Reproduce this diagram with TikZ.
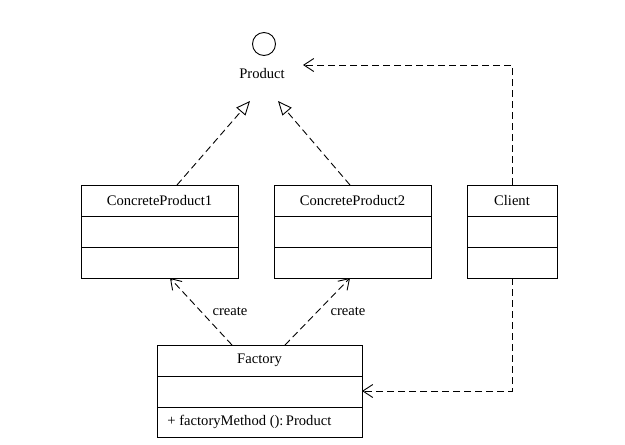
\documentclass[tikz,border=0pt]{standalone}
\usepackage{fontspec}
\setmainfont{Liberation Serif}
\usetikzlibrary{arrows.meta,calc}
\begin{document}
\begin{tikzpicture}[x=1pt,y=-1pt,line width=0.9pt,
  every node/.style={font=\fontsize{14.6}{17}\selectfont},
  box/.style={draw,rectangle,anchor=north west,outer sep=0pt,inner sep=0pt},
  lbl/.style={inner sep=0pt},
  dep/.style={dash pattern=on 7pt off 4pt},
  vhead/.style={-{Straight Barb[length=10pt,width=13pt,line width=0.9pt]}},
  thead/.style={-{Triangle[open,length=14pt,width=12pt,line width=0.9pt]}}]
\useasboundingbox (0,0) rectangle (625,445);
% interface Product
\node[draw,circle,minimum size=23pt,inner sep=0pt] (circ) at (264,44) {};
\node[lbl] (prod) at (262,74) {Product};
\coordinate (tipL) at (250,101);
\coordinate (tipR) at (278,101);
\coordinate (tipC) at (303,65);
% ConcreteProduct1
\node[box,minimum width=157pt,minimum height=93pt] (cp1) at (81,185) {};
\draw ($(cp1.north west)+(0,31)$) -- ($(cp1.north east)+(0,31)$);
\draw ($(cp1.north west)+(0,62)$) -- ($(cp1.north east)+(0,62)$);
\node[lbl] (cp1t) at ($(cp1.north)+(0,15.5)$) {ConcreteProduct1};
% ConcreteProduct2
\node[box,minimum width=157pt,minimum height=93pt] (cp2) at (274,185) {};
\draw ($(cp2.north west)+(0,31)$) -- ($(cp2.north east)+(0,31)$);
\draw ($(cp2.north west)+(0,62)$) -- ($(cp2.north east)+(0,62)$);
\node[lbl] (cp2t) at ($(cp2.north)+(0,15.5)$) {ConcreteProduct2};
% Client
\node[box,minimum width=90pt,minimum height=93pt] (cl) at (467,185) {};
\draw ($(cl.north west)+(0,31)$) -- ($(cl.north east)+(0,31)$);
\draw ($(cl.north west)+(0,62)$) -- ($(cl.north east)+(0,62)$);
\node[lbl] (clt) at ($(cl.north)+(0,15.5)$) {Client};
% Factory
\node[box,minimum width=205pt,minimum height=92pt] (fac) at (157,345) {};
\draw ($(fac.north west)+(0,31)$) -- ($(fac.north east)+(0,31)$);
\draw ($(fac.north west)+(0,62)$) -- ($(fac.north east)+(0,62)$);
\node[lbl] (fact) at ($(fac.north)+(0,15.5)$) {Factory};
\node[lbl,anchor=west] (facm) at ($(fac.north west)+(10,77)$) {+ factoryMethod ():\,Product};
% realizations
\draw[dep,thead] ($(cp1.north west)+(96,0)$) -- (tipL);
\draw[dep,thead] ($(cp2.north west)+(76,0)$) -- (tipR);
% client dependencies
\draw[dep,vhead] (cl.north) |- (tipC);
\draw[dep,vhead] (cl.south) |- (fac.east);
% create
\draw[dep,vhead] ($(fac.north west)+(75,0)$) -- ($(cp1.south west)+(89,0)$);
\draw[dep,vhead] ($(fac.north west)+(128,0)$) -- ($(cp2.south west)+(76,0)$);
\node[lbl] (c1) at (230,311) {create};
\node[lbl] (c2) at (348,311) {create};
\end{tikzpicture}
\end{document}
